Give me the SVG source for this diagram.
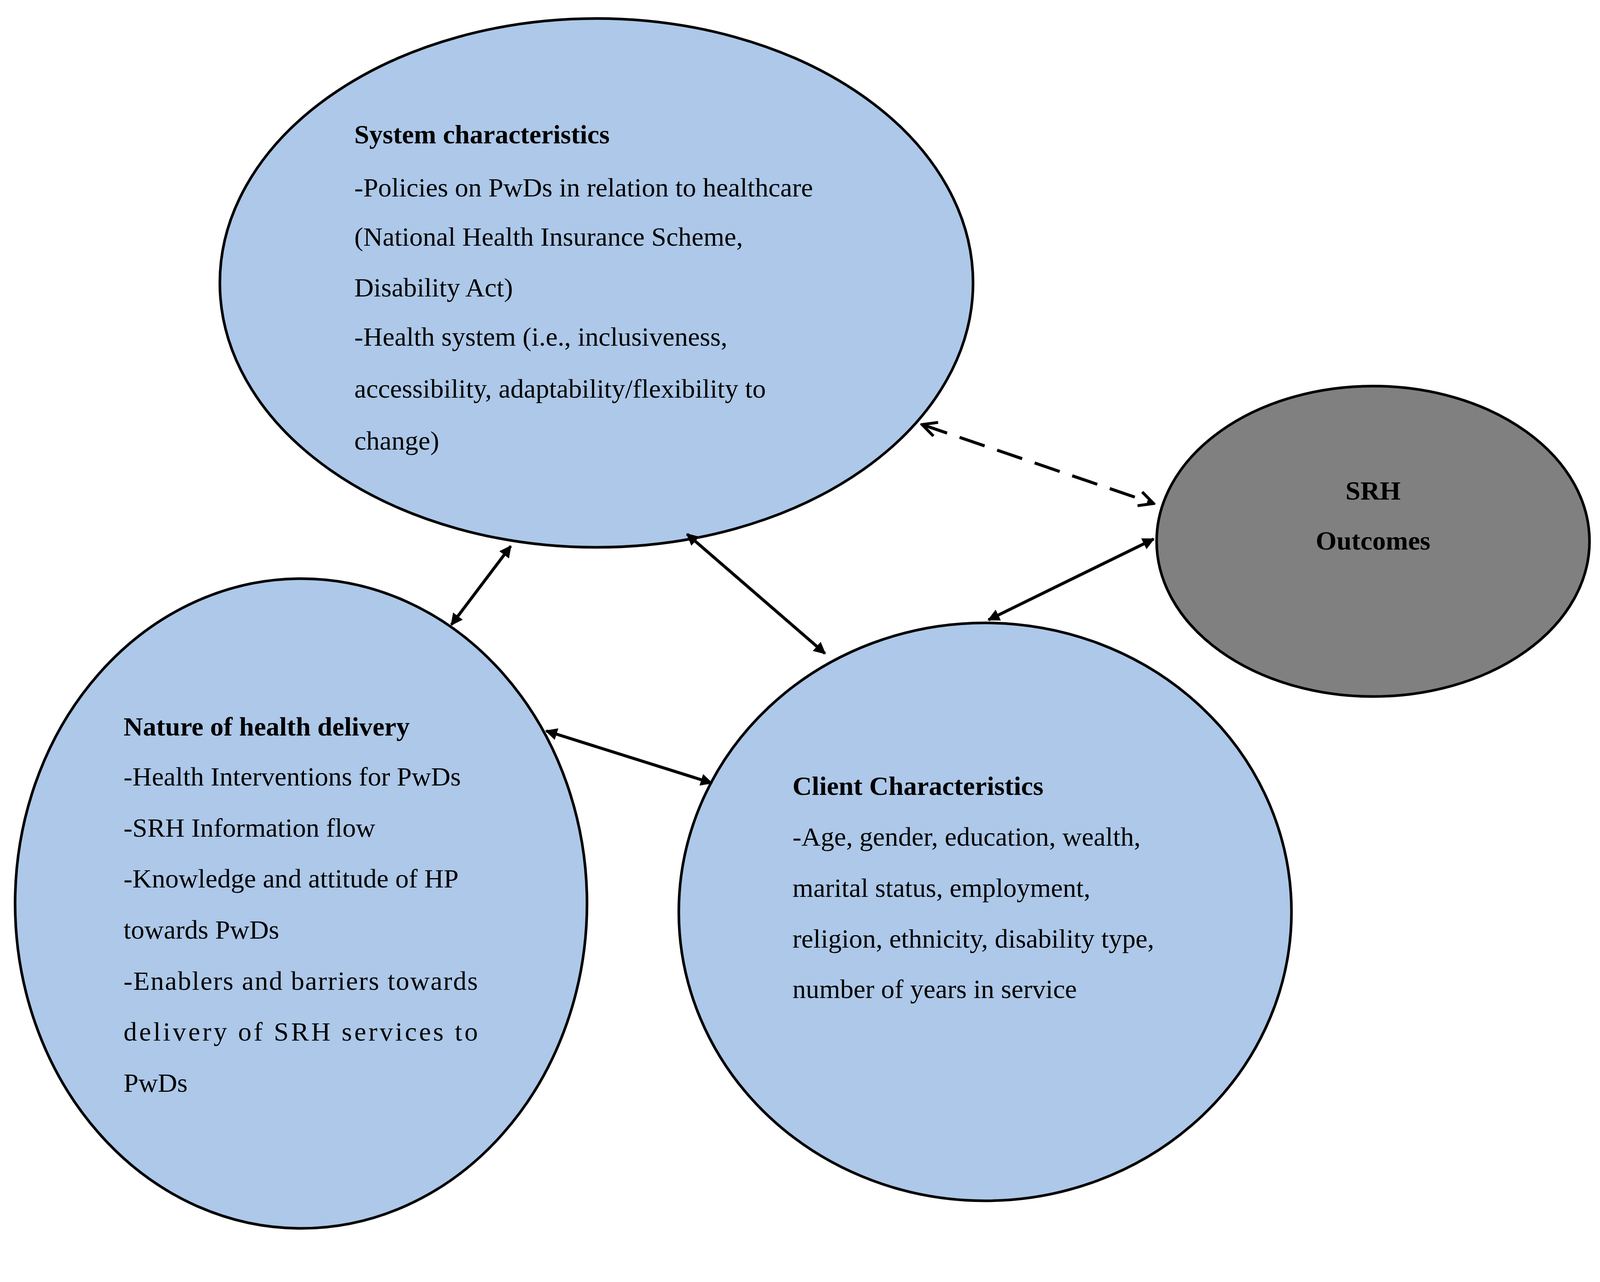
<svg xmlns="http://www.w3.org/2000/svg" width="4238" height="3282" viewBox="0 0 4238 3282">
<style>
.n{fill:#adc8e8;stroke:#000;stroke-width:7}
.t{font-family:"Liberation Serif","DejaVu Serif",serif;font-size:71px;fill:#000}
.b{font-weight:bold}
.c{stroke:#000;stroke-width:8;fill:none}
</style>
<defs>
<marker id="f" viewBox="0 0 10 10" refX="9" refY="5" markerWidth="4" markerHeight="4" orient="auto-start-reverse"><path d="M0,0L10,5L0,10z" fill="#000"/></marker>
<marker id="o" viewBox="0 0 10 10" refX="9" refY="5" markerWidth="6" markerHeight="6" orient="auto-start-reverse"><path d="M1,1L9,5L1,9" fill="none" stroke="#000" stroke-width="1.6"/></marker>
</defs>
<rect width="4238" height="3282" fill="#fff"/>
<g transform="scale(0.967)">
<g id="system">
<ellipse class="n" cx="1579" cy="749" rx="997" ry="700"/>
<text class="t b" x="938" y="380">System characteristics</text>
<text class="t" x="938" y="520">-Policies on PwDs in relation to healthcare</text>
<text class="t" x="938" y="650">(National Health Insurance Scheme,</text>
<text class="t" x="938" y="785">Disability Act)</text>
<text class="t" x="938" y="915">-Health system (i.e., inclusiveness,</text>
<text class="t" x="938" y="1053">accessibility, adaptability/flexibility to</text>
<text class="t" x="938" y="1190">change)</text>
</g>
<g id="srh">
<ellipse cx="3635" cy="1433" rx="573" ry="411" fill="#808080" stroke="#000" stroke-width="7"/>
<text class="t b" x="3635" y="1323" text-anchor="middle">SRH</text>
<text class="t b" x="3635" y="1455" text-anchor="middle">Outcomes</text>
</g>
<g id="nature">
<ellipse class="n" cx="797" cy="2392" rx="757" ry="860"/>
<text class="t b" x="327" y="1947">Nature of health delivery</text>
<text class="t" x="327" y="2080">-Health Interventions for PwDs</text>
<text class="t" x="327" y="2215">-SRH Information flow</text>
<text class="t" x="327" y="2350">-Knowledge and attitude of HP</text>
<text class="t" x="327" y="2485">towards PwDs</text>
<text class="t" x="327" y="2620" textLength="938" lengthAdjust="spacing">-Enablers and barriers towards</text>
<text class="t" x="327" y="2755" textLength="938" lengthAdjust="spacing">delivery of SRH services to</text>
<text class="t" x="327" y="2890">PwDs</text>
</g>
<g id="client">
<ellipse class="n" cx="2608" cy="2414" rx="811" ry="765"/>
<text class="t b" x="2098" y="2104">Client Characteristics</text>
<text class="t" x="2098" y="2239">-Age, gender, education, wealth,</text>
<text class="t" x="2098" y="2374">marital status, employment,</text>
<text class="t" x="2098" y="2509">religion, ethnicity, disability type,</text>
<text class="t" x="2098" y="2642">number of years in service</text>
</g>
<g id="connectors">
<line class="c" x1="2441" y1="1124" x2="3054" y2="1333" stroke-width="11" stroke-dasharray="70,35" marker-start="url(#o)" marker-end="url(#o)"/>
<line class="c" x1="1352" y1="1446" x2="1195" y2="1654" marker-start="url(#f)" marker-end="url(#f)"/>
<line class="c" x1="1819" y1="1414" x2="2184" y2="1730" marker-start="url(#f)" marker-end="url(#f)"/>
<line class="c" x1="1446" y1="1935" x2="1884" y2="2073" marker-start="url(#f)" marker-end="url(#f)"/>
<line class="c" x1="2617" y1="1641" x2="3054" y2="1427" marker-start="url(#f)" marker-end="url(#f)"/>
</g>
</g>
</svg>
